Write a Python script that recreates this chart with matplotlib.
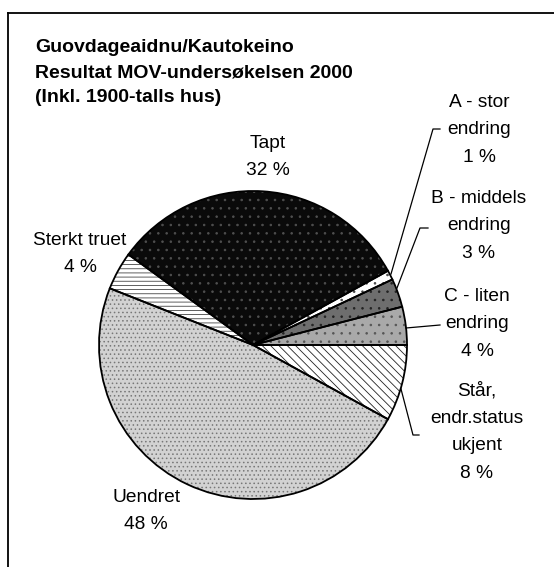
import matplotlib.pyplot as plt

# --- Data (order: counter-clockwise on screen, starting at 3 o'clock) ---
categories = ["C - liten\nendring", "B - middels\nendring", "A - stor\nendring",
              "Tapt", "Sterkt truet", "Uendret", "Står,\nendr.status\nukjent"]
shares = [4, 3, 1, 32, 4, 48, 8]

title_lines = ["Guovdageaidnu/Kautokeino",
               "Resultat MOV-undersøkelsen 2000",
               "(Inkl. 1900-talls hus)"]

# --- Styling per slice ---
faces = ["#a9a9a9", "#6e6e6e", "#ffffff", "#0a0a0a", "#ffffff", "#d2d2d2", "#ffffff"]
hatches = ["..", "..", "..", "..", "----", "....", "\\\\\\\\"]
hatch_cols = ["#555555", "#222222", "#444444", "#505050", "#444444", "#777777", "#222222"]

# label block centres (pixel coords)
label_xy = [(477, 324), (479, 226), (479, 130), (268, 157), (80, 254), (146, 511), (477, 432)]

plt.rcParams["font.family"] = ["Liberation Sans", "DejaVu Sans"]
plt.rcParams["hatch.linewidth"] = 0.6

W, H = 554, 567
fig = plt.figure(figsize=(W / 100, H / 100), dpi=100)
ax = fig.add_axes([0, 0, 1, 1])

cx, cy, r = 253, 345, 154

# y axis is inverted below, so clockwise in data = counter-clockwise on screen
wedges, _ = ax.pie(shares, center=(cx, cy), radius=r, startangle=0,
                   counterclock=False, colors=faces,
                   wedgeprops=dict(linewidth=0))
for w, h, hc in zip(wedges, hatches, hatch_cols):
    w.set_hatch(h)
    w.set_edgecolor(hc)

# outlines
ax.pie(shares, center=(cx, cy), radius=r, startangle=0, counterclock=False,
       colors=["none"] * len(shares),
       wedgeprops=dict(linewidth=1.3, edgecolor="black", fill=False))

ax.set_xlim(0, W)
ax.set_ylim(H, 0)
ax.set_aspect("equal")
ax.axis("off")

# labels
for cat, val, (lx, ly) in zip(categories, shares, label_xy):
    ax.text(lx, ly, f"{cat}\n{val} %", ha="center", va="center",
            fontsize=13.8, linespacing=1.8)

# leader lines
leaders = [
    [(440, 325), (406, 328)],
    [(428, 228), (420, 228), (397, 288)],
    [(440, 129), (433, 129), (391, 274)],
    [(419, 435), (413, 435), (401, 389)],
]
for pts in leaders:
    xs, ys = zip(*pts)
    ax.plot(xs, ys, color="black", linewidth=0.9)

# title
for i, line in enumerate(title_lines):
    ax.text(35, 47 + i * 25.5, line, ha="left", va="center",
            fontsize=14, fontweight="bold")

# frame (only top and left edges fall inside the image)
ax.plot([8, W + 5], [13, 13], color="black", linewidth=1.3, clip_on=False)
ax.plot([8, 8], [13, H + 5], color="black", linewidth=1.3, clip_on=False)

fig.savefig("out.png", dpi=100)
